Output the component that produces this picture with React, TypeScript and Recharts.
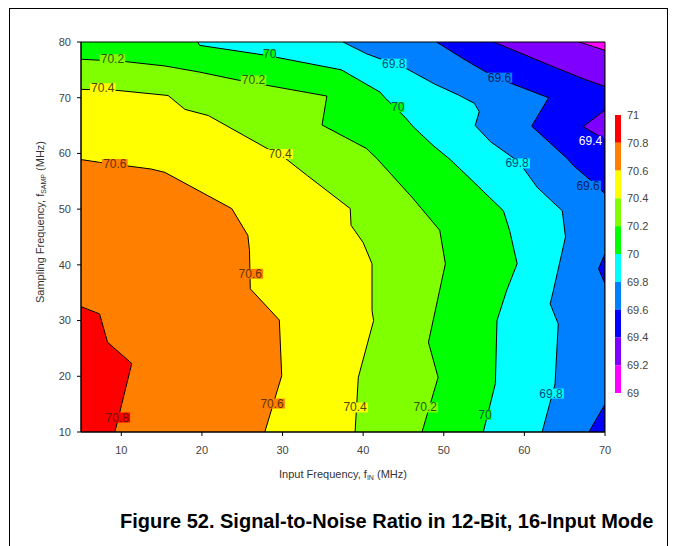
import React from 'react';
import {
  ComposedChart,
  Area,
  Scatter,
  XAxis,
  YAxis,
  CartesianGrid,
  ReferenceArea,
  Legend,
  Label,
} from 'recharts';

const FONT = '"Liberation Sans", Arial, sans-serif';

// colour bar, top (71) to bottom (69)
const levelTicks = ['71', '70.8', '70.6', '70.4', '70.2', '70', '69.8', '69.6', '69.4', '69.2', '69'];
const bandColors = ['#ff0000', '#ff8000', '#ffff00', '#80ff00', '#00ff00', '#00ffff', '#0080ff', '#0000ff', '#8000ff', '#ff00ff'];

const xTicks = [10, 20, 30, 40, 50, 60, 70];
const yTicks = [10, 20, 30, 40, 50, 60, 70, 80];

// contour lines: input freq (x) read along sampling freq (y)
// region on the left of a line is the band above that level
const c692 = [
  { y: 10, x: 70 }, { y: 78.5, x: 70 }, { y: 80, x: 66.8 },
];
const c694 = [
  { y: 10, x: 70 }, { y: 62.5, x: 70 }, { y: 64.8, x: 67.3 }, { y: 67.8, x: 70 },
  { y: 72, x: 70 }, { y: 73.4, x: 67.3 }, { y: 75.8, x: 63.2 }, { y: 80, x: 56.2 },
];
const c696 = [
  { y: 10, x: 68 }, { y: 15, x: 70 }, { y: 36.6, x: 70 }, { y: 39.3, x: 69.2 }, { y: 42, x: 70 },
  { y: 52.7, x: 70 }, { y: 54.2, x: 69 }, { y: 57.8, x: 66.1 }, { y: 59.1, x: 65.3 },
  { y: 64.9, x: 60.9 }, { y: 70, x: 63 }, { y: 73.7, x: 56.3 }, { y: 77, x: 52.4 }, { y: 80, x: 49.1 },
];
const c698 = [
  { y: 10, x: 62.2 }, { y: 18.6, x: 63.8 }, { y: 29.4, x: 64.2 }, { y: 33, x: 63.2 }, { y: 35.4, x: 63.6 },
  { y: 45, x: 65.1 }, { y: 49.7, x: 64.7 }, { y: 53.9, x: 61.6 }, { y: 58.5, x: 59.3 },
  { y: 62.1, x: 55.8 }, { y: 65, x: 53.9 }, { y: 67.5, x: 54.4 }, { y: 69, x: 53.8 },
  { y: 70.5, x: 51.8 }, { y: 72.5, x: 48.8 }, { y: 75.2, x: 45.4 }, { y: 77.9, x: 40.4 }, { y: 80, x: 37.5 },
];
const c700 = [
  { y: 10, x: 54.9 }, { y: 18.7, x: 56.4 }, { y: 30, x: 56.6 }, { y: 35.4, x: 57.8 }, { y: 40.2, x: 59.1 },
  { y: 46, x: 58.2 }, { y: 49.7, x: 57.4 }, { y: 56, x: 52.9 }, { y: 58.9, x: 50.8 },
  { y: 61.4, x: 48.7 }, { y: 64.8, x: 46.2 }, { y: 66.5, x: 45.2 }, { y: 70, x: 42.7 },
  { y: 71, x: 42.1 }, { y: 75, x: 37.3 }, { y: 77.6, x: 28 }, { y: 79.4, x: 19.7 }, { y: 80, x: 19.5 },
];
const c702 = [
  { y: 10, x: 47.3 }, { y: 19.8, x: 49.3 }, { y: 26.1, x: 48.1 }, { y: 40.2, x: 50.2 },
  { y: 46.2, x: 49.5 }, { y: 51.9, x: 46.2 }, { y: 59.1, x: 41.7 }, { y: 60.9, x: 40.4 },
  { y: 65.1, x: 34.9 }, { y: 70.3, x: 35.5 }, { y: 73.1, x: 24.7 }, { y: 74.6, x: 19.7 },
  { y: 75.7, x: 15.4 }, { y: 76.5, x: 10.4 }, { y: 76.9, x: 5 },
];
const c704 = [
  { y: 10, x: 39 }, { y: 19.8, x: 39.4 }, { y: 30, x: 41.3 }, { y: 31.8, x: 41.1 }, { y: 40.2, x: 41.1 },
  { y: 44, x: 40 }, { y: 47.1, x: 38.5 }, { y: 50.1, x: 38.4 }, { y: 56, x: 33.1 },
  { y: 59.4, x: 30.1 }, { y: 60.8, x: 28.2 }, { y: 66.8, x: 20.8 }, { y: 67.9, x: 17.9 },
  { y: 70.4, x: 15.8 }, { y: 71.3, x: 9.6 }, { y: 71.5, x: 5 },
];
const c706 = [
  { y: 10, x: 27.8 }, { y: 20.1, x: 29.9 }, { y: 30.1, x: 29.6 }, { y: 35.7, x: 26 }, { y: 42.6, x: 25.9 },
  { y: 45.3, x: 25.7 }, { y: 50.1, x: 23.7 }, { y: 56.6, x: 15.4 }, { y: 57.2, x: 13.7 },
  { y: 58.4, x: 7.3 }, { y: 58.9, x: 5 },
];
const c708 = [
  { y: 10, x: 9.2 }, { y: 22.3, x: 11.3 }, { y: 26.1, x: 8.3 }, { y: 31.2, x: 7.3 }, { y: 32.5, x: 5 },
];

// drawn from the lowest level upward, each one over the last
const contours = [
  { level: '69.2', fill: bandColors[8], pts: c692 },
  { level: '69.4', fill: bandColors[7], pts: c694 },
  { level: '69.6', fill: bandColors[6], pts: c696 },
  { level: '69.8', fill: bandColors[5], pts: c698 },
  { level: '70', fill: bandColors[4], pts: c700 },
  { level: '70.2', fill: bandColors[3], pts: c702 },
  { level: '70.4', fill: bandColors[2], pts: c704 },
  { level: '70.6', fill: bandColors[1], pts: c706 },
  { level: '70.8', fill: bandColors[0], pts: c708 },
];

const contourLabels = [
  { x: 8.9, y: 76.9, text: '70.2', color: '#2d5a00', bg: bandColors[3] },
  { x: 7.7, y: 71.7, text: '70.4', color: '#4a4a00', bg: bandColors[2] },
  { x: 9.2, y: 58.1, text: '70.6', color: '#6a3000', bg: bandColors[1] },
  { x: 28.4, y: 77.8, text: '70', color: '#005a50', bg: bandColors[4] },
  { x: 26.4, y: 73.1, text: '70.2', color: '#2d5a00', bg: bandColors[3] },
  { x: 29.7, y: 59.9, text: '70.4', color: '#4a4a00', bg: bandColors[2] },
  { x: 43.8, y: 76.1, text: '69.8', color: '#004a80', bg: bandColors[5] },
  { x: 56.9, y: 73.6, text: '69.6', color: '#00206a', bg: bandColors[6] },
  { x: 44.3, y: 68.3, text: '70', color: '#005a50', bg: bandColors[4] },
  { x: 59.1, y: 58.2, text: '69.8', color: '#004a80', bg: bandColors[5] },
  { x: 68.2, y: 62.3, text: '69.4', color: '#ffffff', bg: bandColors[7] },
  { x: 67.9, y: 54.2, text: '69.6', color: '#00206a', bg: bandColors[6] },
  { x: 26.0, y: 38.4, text: '70.6', color: '#6a3000', bg: bandColors[1] },
  { x: 9.5, y: 12.6, text: '70.8', color: '#6a1000', bg: bandColors[0] },
  { x: 28.7, y: 15.1, text: '70.6', color: '#6a3000', bg: bandColors[1] },
  { x: 39.0, y: 14.4, text: '70.4', color: '#4a4a00', bg: bandColors[2] },
  { x: 47.7, y: 14.4, text: '70.2', color: '#2d5a00', bg: bandColors[3] },
  { x: 55.1, y: 13.1, text: '70', color: '#005a50', bg: bandColors[4] },
  { x: 63.3, y: 16.9, text: '69.8', color: '#004a80', bg: bandColors[5] },
];

const ContourLabel = (props: any) => {
  const { cx, cy, payload } = props;
  const w = payload.text.length * 6.4;
  return (
    <g>
      <rect x={cx - w / 2} y={cy - 5} width={w} height={10} fill={payload.bg} />
      <text x={cx} y={cy + 4} textAnchor="middle" fontSize={12} fontFamily={FONT} fill={payload.color}>
        {payload.text}
      </text>
    </g>
  );
};

const ColorBar = () => {
  const step = 27.8;
  return (
    <svg width={70} height={310} style={{ display: 'block' }}>
      {bandColors.map((c, i) => (
        <rect key={c} x={15} y={15 + i * step} width={6} height={step} fill={c} />
      ))}
      {levelTicks.map((t, i) => (
        <text key={t} x={27} y={15 + i * step + 4} fontSize={11} fontFamily={FONT} fill="#444">
          {t}
        </text>
      ))}
    </svg>
  );
};

const XTitle = ({ viewBox }: any) => {
  const x = viewBox.x + viewBox.width / 2;
  return (
    <text x={x} y={viewBox.y + 46} textAnchor="middle" fontSize={11} fontFamily={FONT} fill="#333">
      Input Frequency, f<tspan fontSize={7} dy={2}>IN</tspan>
      <tspan dy={-2}> (MHz)</tspan>
    </text>
  );
};

const YTitle = ({ viewBox }: any) => {
  const x = viewBox.x + 23;
  const y = viewBox.y + viewBox.height / 2 - 15;
  return (
    <text x={x} y={y} transform={`rotate(-90 ${x} ${y})`} textAnchor="middle" fontSize={11} fontFamily={FONT} fill="#333">
      Sampling Frequency, f<tspan fontSize={7} dy={2}>SAMP</tspan>
      <tspan dy={-2}> (MHz)</tspan>
    </text>
  );
};

export default function App() {
  return (
    <div style={{ position: 'absolute', left: 0, top: 0, width: 676, height: 546, background: '#fff', overflow: 'hidden' }}>
      <div style={{ position: 'absolute', left: 9, top: 8, width: 657, height: 560, border: '1px solid #000' }} />
      <ComposedChart
        width={676}
        height={546}
        layout="vertical"
        margin={{ top: 42, right: 71, left: 21, bottom: 84 }}
        style={{ position: 'absolute', left: 0, top: 0 }}
      >
        <CartesianGrid horizontal={false} vertical={false} fill={bandColors[9]} />
        <XAxis
          type="number"
          dataKey="x"
          domain={[5, 70]}
          ticks={xTicks}
          allowDataOverflow
          height={30}
          tickSize={4}
          tickMargin={10}
          stroke="#000"
          tick={{ fill: '#444', fontSize: 11, fontFamily: FONT }}
        >
          <Label content={<XTitle />} />
        </XAxis>
        <YAxis
          type="number"
          dataKey="y"
          domain={[10, 80]}
          ticks={yTicks}
          reversed
          allowDataOverflow
          width={60}
          tickSize={4}
          tickMargin={6}
          stroke="#000"
          tick={{ fill: '#444', fontSize: 11, fontFamily: FONT }}
        >
          <Label content={<YTitle />} />
        </YAxis>
        {contours.map((c) => (
          <Area
            key={c.level}
            data={c.pts}
            dataKey="x"
            type="linear"
            fill={c.fill}
            fillOpacity={1}
            stroke="#000"
            strokeWidth={1}
            isAnimationActive={false}
            dot={false}
            activeDot={false}
          />
        ))}
        <Scatter data={contourLabels} shape={<ContourLabel />} isAnimationActive={false} />
        <ReferenceArea x1={5} x2={70} y1={10} y2={80} fill="none" stroke="#000" strokeWidth={1} ifOverflow="visible" />
        <Legend
          layout="horizontal"
          verticalAlign="middle"
          align="center"
          wrapperStyle={{ left: 600, top: 100, width: 70, height: 310 }}
          content={() => <ColorBar />}
        />
      </ComposedChart>
      <div
        style={{
          position: 'absolute',
          left: 120,
          top: 510,
          fontFamily: FONT,
          fontWeight: 'bold',
          fontSize: 20,
          whiteSpace: 'nowrap',
          color: '#000',
        }}
      >
        Figure 52. Signal-to-Noise Ratio in 12-Bit, 16-Input Mode
      </div>
    </div>
  );
}
